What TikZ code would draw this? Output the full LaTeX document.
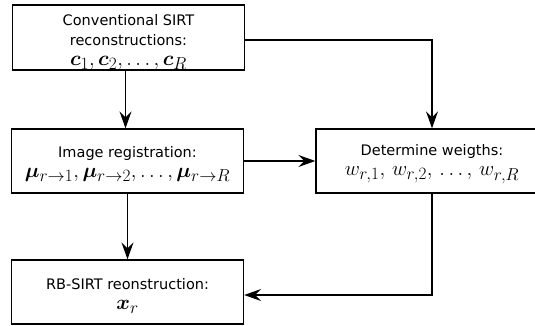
\documentclass[tikz,border=0pt]{standalone}
\usepackage{amsmath}
\usepackage{fontspec}
\setmainfont{DejaVu Sans}
\usetikzlibrary{arrows.meta}
\DeclareMathSizes{20.5}{20.5}{16.5}{12}
\newcommand{\mathtext}[1]{{\fontsize{20.5}{20}\selectfont$#1$}}
\tikzset{
  stagebox/.style={draw, line width=1.3pt, minimum width=232pt, minimum height=64pt, inner sep=0pt},
  stagetext/.style={align=center, inner sep=0pt, font=\fontsize{14.5}{20}\selectfont},
  flow/.style={line width=1.2pt, -{Stealth[length=17pt,width=12pt,inset=6pt]}}
}
\begin{document}
\begin{tikzpicture}[x=1pt, y=-1pt]
  \useasboundingbox (0,0) rectangle (535,325);
  \clip (0,0) rectangle (535,325);
  % boxes
  \node[stagebox, minimum height=65pt] (conv) at (128.5,37.5) {};
  \node[stagebox] (reg) at (127.5,161) {};
  \node[stagebox] (wts) at (432,161) {};
  \node[stagebox] (rb) at (127.5,292) {};
  % box contents
  \node[stagetext] (convtext) at ([yshift=-4.5pt]conv.center)
    {Conventional SIRT\\reconstructions:\\\mathtext{\boldsymbol{c}_1, \boldsymbol{c}_2, \ldots, \boldsymbol{c}_R}};
  \node[stagetext] (regtext) at ([yshift=-3pt]reg.center)
    {Image registration:\\\mathtext{\boldsymbol{\mu}_{r\to 1}, \boldsymbol{\mu}_{r\to 2}, \ldots, \boldsymbol{\mu}_{r\to R}}};
  \node[stagetext] (wtstext) at ([yshift=-3pt]wts.center)
    {Determine weigths:\\\mathtext{w_{r,1},\, w_{r,2},\, \ldots,\, w_{r,R}}};
  \node[stagetext] (rbtext) at ([yshift=-4pt]rb.center)
    {RB-SIRT reonstruction:\\\mathtext{\boldsymbol{x}_r}};
  % connectors
  \draw[flow] ([xshift=-3pt]conv.south) -- ([xshift=-2pt]reg.north);
  \draw[flow] ([yshift=-2.5pt]conv.east) -| (wts.north);
  \draw[flow] (reg) -- (wts);
  \draw[flow] (reg) -- (rb);
  \draw[flow] (wts.south) |- ([yshift=-3pt]rb.east);
\end{tikzpicture}
\end{document}
